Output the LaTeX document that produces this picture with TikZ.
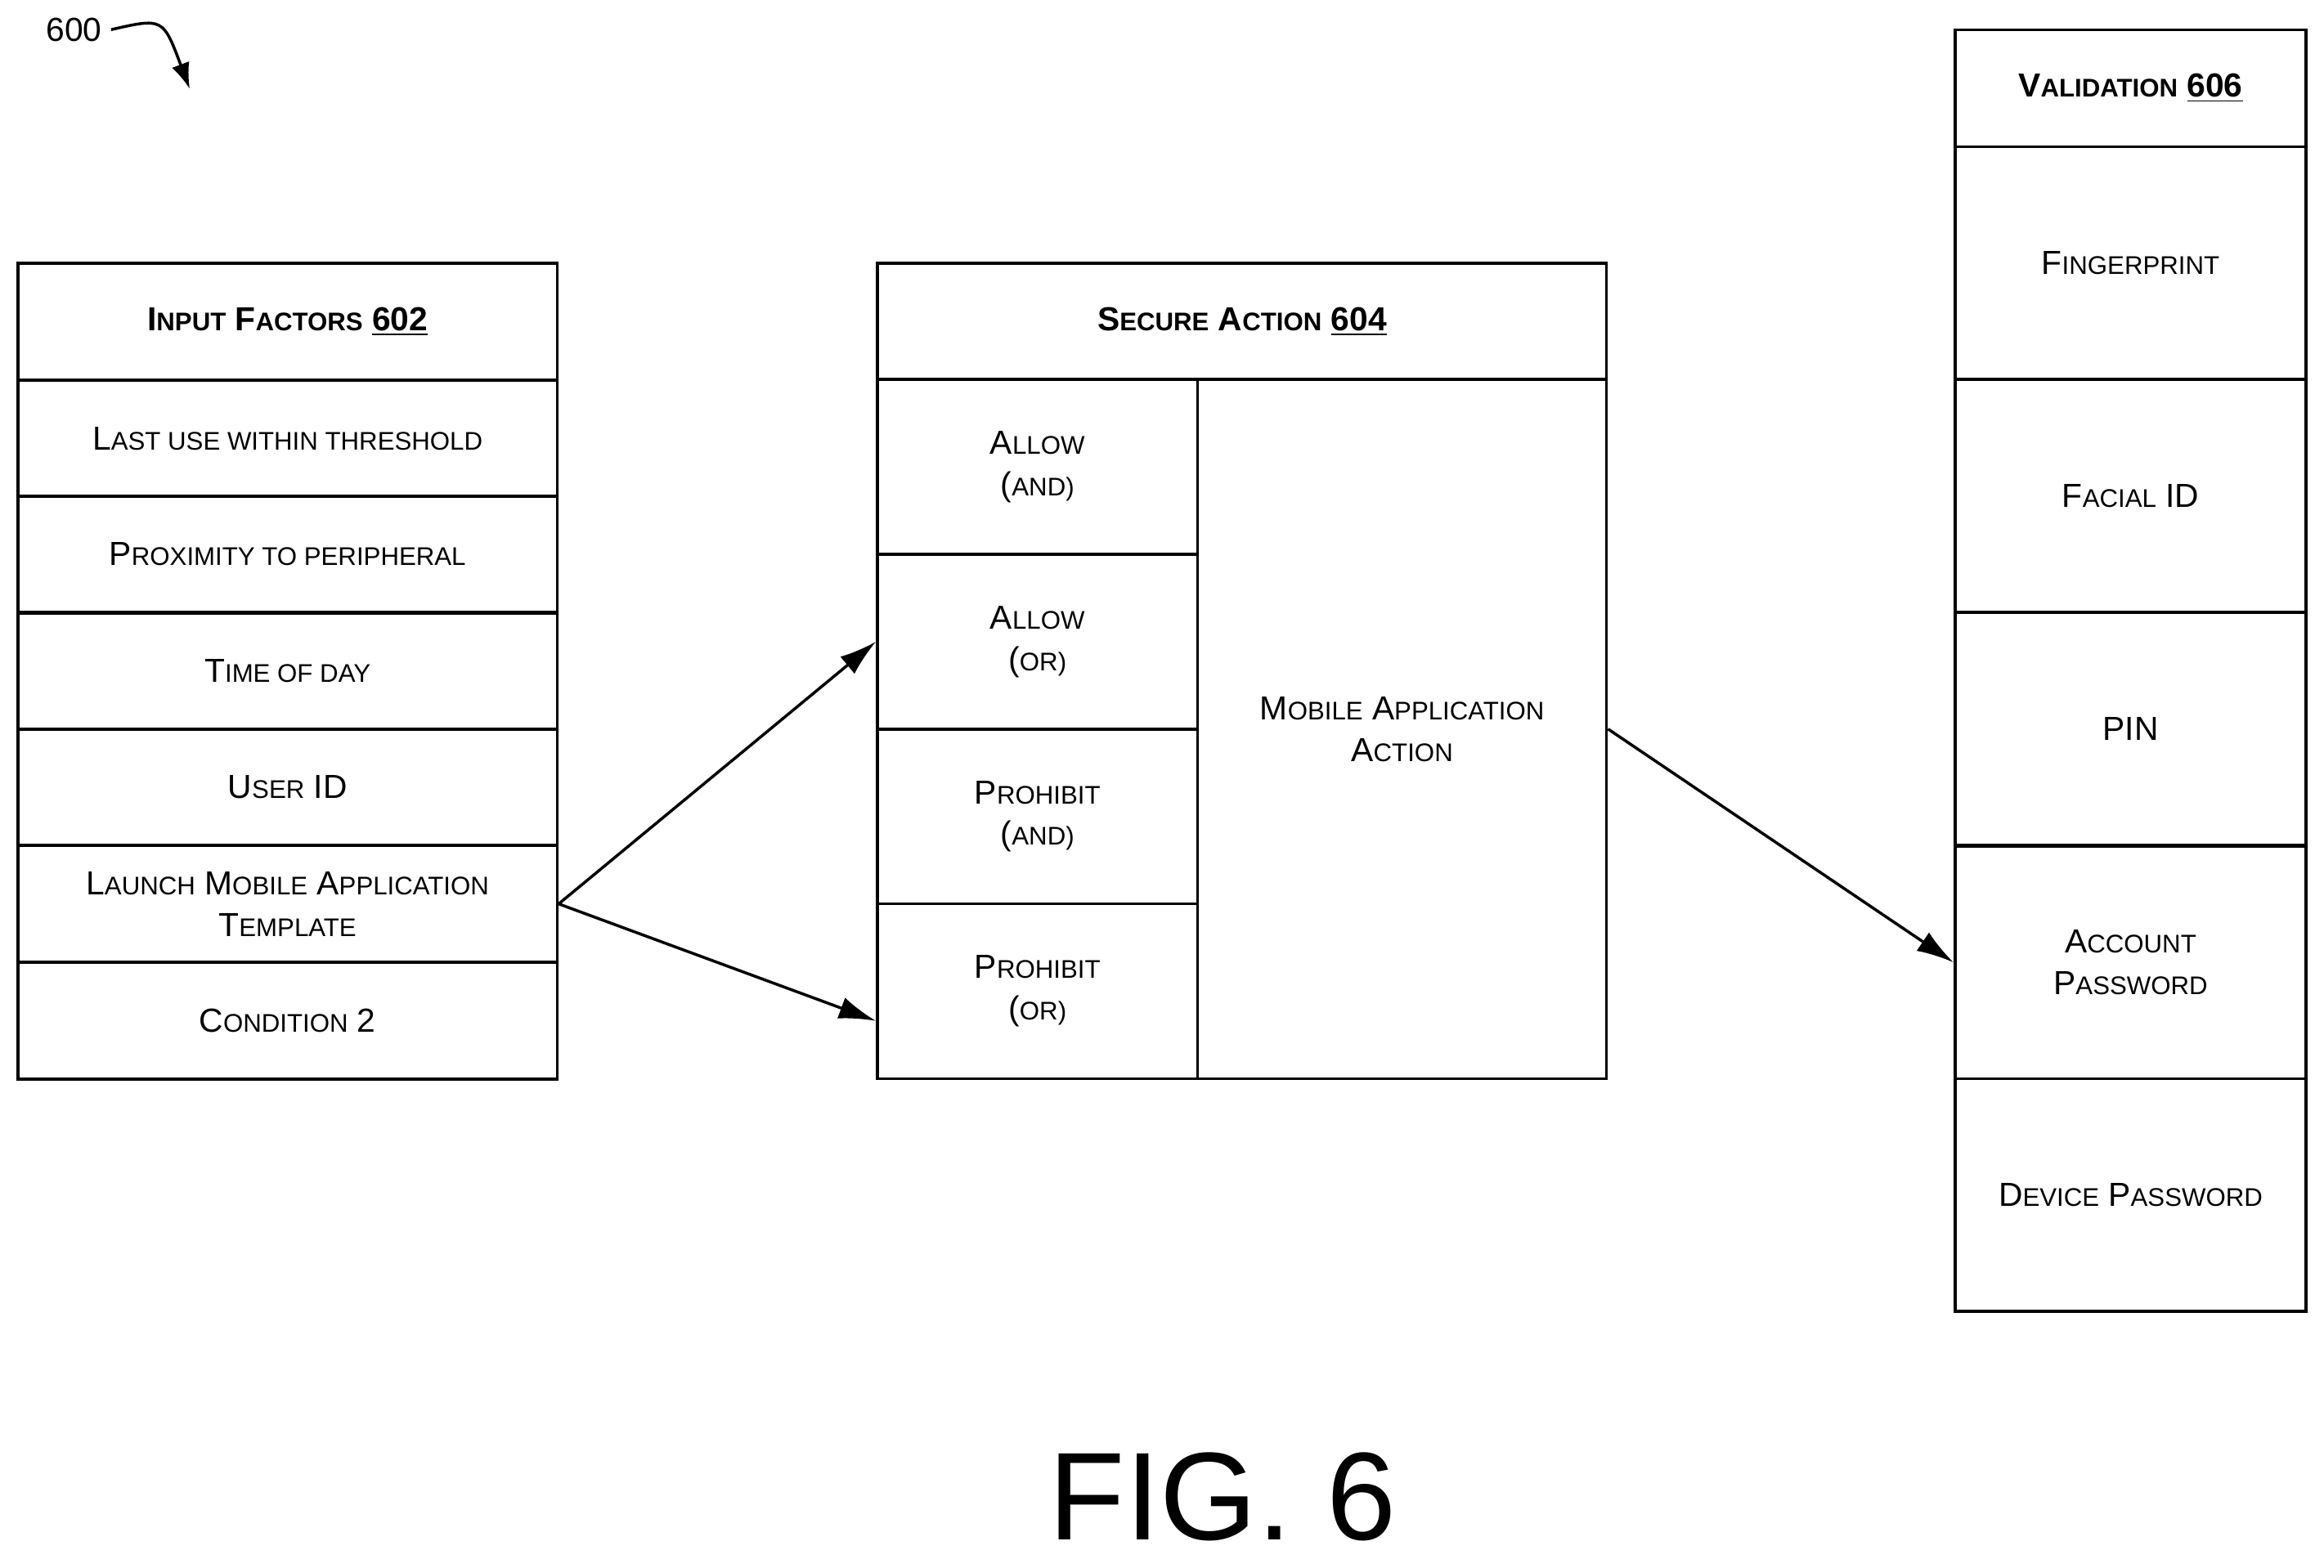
\documentclass[tikz,border=0pt]{standalone}
\usepackage{fontspec}
\setmainfont{Liberation Sans}
\usetikzlibrary{arrows.meta}
\newcommand{\Sc}[2]{#1{\fontsize{9.8}{11}\selectfont\MakeUppercase{#2}}}
\tikzset{
  cell/.style={draw, line width=1.1pt, inner sep=0pt, align=center,
    font=\fontsize{12.8}{16}\selectfont},
  conn/.style={line width=1.1pt, -{Latex[length=0.5cm,width=0.3cm]}}
}
\begin{document}
\begin{tikzpicture}[x=0.02cm,y=-0.02cm]
    \useasboundingbox (0,0) rectangle (1568,1058);

    % input factors
    \node[cell, minimum width=7.28cm, minimum height=1.57cm] (inh) at (194,217) {\textbf{\Sc{I}{nput} \Sc{F}{actors} \underline{602}}};
    \node[cell, minimum width=7.28cm, minimum height=1.57cm] (in1) at (194,296) {\Sc{L}{ast use within threshold}};
    \node[cell, minimum width=7.28cm, minimum height=1.57cm] (in2) at (194,374) {\Sc{P}{roximity to peripheral}};
    \node[cell, minimum width=7.28cm, minimum height=1.57cm] (in3) at (194,453) {\Sc{T}{ime of day}};
    \node[cell, minimum width=7.28cm, minimum height=1.57cm] (in4) at (194,531) {\Sc{U}{ser} ID};
    \node[cell, minimum width=7.28cm, minimum height=1.57cm] (in5) at (194,610) {\Sc{L}{aunch} \Sc{M}{obile} \Sc{A}{pplication}\\\Sc{T}{emplate}};
    \node[cell, minimum width=7.28cm, minimum height=1.57cm] (in6) at (194,689) {\Sc{C}{ondition} 2};

    % secure action
    \node[cell, minimum width=9.84cm, minimum height=1.57cm] (sah) at (838,217) {\textbf{\Sc{S}{ecure} \Sc{A}{ction} \underline{604}}};
    \node[cell, minimum width=4.32cm, minimum height=2.36cm] (al1) at (700,315) {\Sc{A}{llow}\\\Sc{(}{and)}};
    \node[cell, minimum width=4.32cm, minimum height=2.36cm] (al2) at (700,433) {\Sc{A}{llow}\\\Sc{(}{or)}};
    \node[cell, minimum width=4.32cm, minimum height=2.36cm] (pr1) at (700,551) {\Sc{P}{rohibit}\\\Sc{(}{and)}};
    \node[cell, minimum width=4.32cm, minimum height=2.36cm] (pr2) at (700,669) {\Sc{P}{rohibit}\\\Sc{(}{or)}};
    \node[cell, minimum width=5.52cm, minimum height=9.44cm] (mob) at (946,492) {\Sc{M}{obile} \Sc{A}{pplication}\\\Sc{A}{ction}};

    % validation
    \node[cell, minimum width=4.74cm, minimum height=1.58cm] (vah) at (1437.5,59.5) {\textbf{\Sc{V}{alidation} \underline{606}}};
    \node[cell, minimum width=4.74cm, minimum height=3.14cm] (va1) at (1437.5,177.5) {\Sc{F}{ingerprint}};
    \node[cell, minimum width=4.74cm, minimum height=3.14cm] (va2) at (1437.5,334.5) {\Sc{F}{acial} ID};
    \node[cell, minimum width=4.74cm, minimum height=3.14cm] (va3) at (1437.5,492) {PIN};
    \node[cell, minimum width=4.74cm, minimum height=3.14cm] (va4) at (1437.5,649.5) {\Sc{A}{ccount}\\\Sc{P}{assword}};
    \node[cell, minimum width=4.74cm, minimum height=3.14cm] (va5) at (1437.5,806.5) {\Sc{D}{evice} \Sc{P}{assword}};

    \draw[conn] (in5.east) -- (al2.west);
    \draw[conn] (in5.east) -- ([yshift=-0.4cm]pr2.west);
    \draw[conn] (mob.east) -- (va4.west);

    \node[font=\fontsize{12.8}{16}\selectfont] (lbl) at (50,20) {600};
    \coordinate (tip) at (128,60);
    \draw[line width=1.1pt, -{Latex[length=0.35cm,width=0.25cm]}] (lbl.east) .. controls (110,12) .. (tip);

    \node[font=\fontsize{48}{56}\selectfont] (fig) at (825,1010) {FIG. 6};
\end{tikzpicture}
\end{document}
